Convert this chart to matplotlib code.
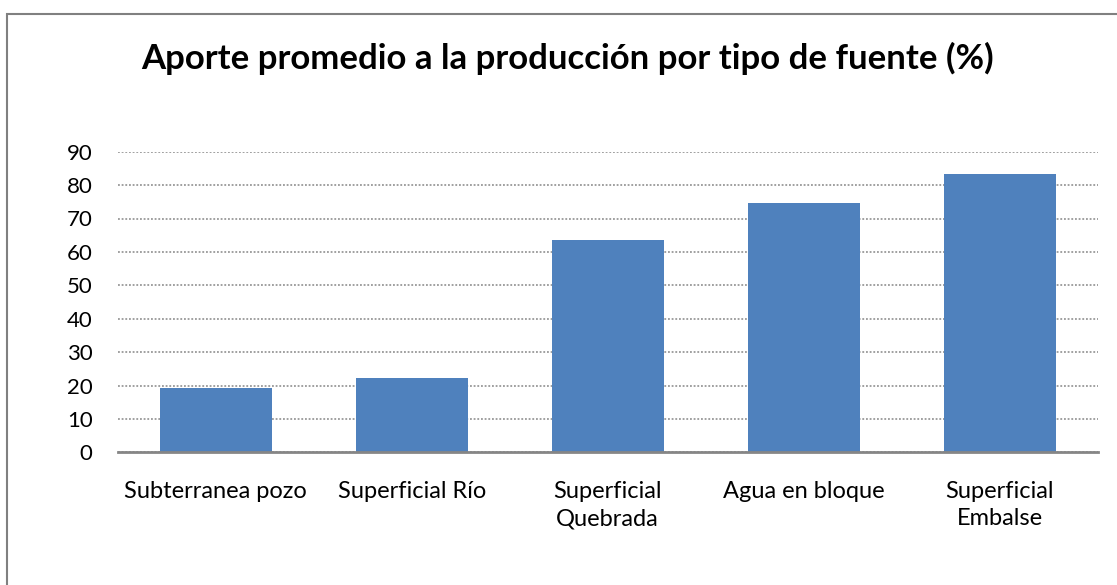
import matplotlib.pyplot as plt
from matplotlib.patches import Rectangle

categorias = ["Subterranea pozo", "Superficial Río", "Superficial\nQuebrada",
              "Agua en bloque", "Superficial\nEmbalse"]
aporte = [19.3, 22.2, 63.6, 74.7, 83.2]
ticks_y = [0, 10, 20, 30, 40, 50, 60, 70, 80, 90]

plt.rcParams['font.family'] = ['Lato', 'DejaVu Sans']

W, H = 1117, 585
fig = plt.figure(figsize=(W / 100, H / 100), dpi=100)

# area del grafico (en pixeles)
left, right, top, bottom = 117.7, 1097.7, 151.7, 452.3
ax = fig.add_axes([left / W, 1 - bottom / H, (right - left) / W, (bottom - top) / H])

x = range(len(categorias))
ax.bar(x, aporte, width=0.57, color='#4F81BD', zorder=3)

ax.set_xlim(-0.5, len(categorias) - 0.5)
ax.set_ylim(0, 90)
ax.set_yticks(ticks_y)
ax.set_xticks(list(x))
ax.set_xticklabels(categorias, fontsize=17, linespacing=1.35, va='top')
ax.tick_params(axis='both', length=0, colors='black')
ax.tick_params(axis='y', labelsize=16, pad=18)
ax.tick_params(axis='x', pad=21)

ax.yaxis.grid(True, linestyle=(0, (1.2, 1.2)), color='#868686', linewidth=1.1, zorder=0)
for s in ['left', 'right', 'top']:
    ax.spines[s].set_visible(False)
ax.spines['bottom'].set_color('#868686')
ax.spines['bottom'].set_linewidth(2)
ax.spines['bottom'].set_zorder(4)

fig.text(567.5 / W, 1 - 69 / H, "Aporte promedio a la producción por tipo de fuente (%)",
         ha='center', va='baseline', fontsize=25, fontweight='bold')

# marco del grafico
fig.patches.append(Rectangle((7 / W, -0.1), 1.2, 1 - 14 / H + 0.1, transform=fig.transFigure,
                             fill=False, edgecolor='#808080', linewidth=1.5))

fig.savefig("out.png", dpi=100)
